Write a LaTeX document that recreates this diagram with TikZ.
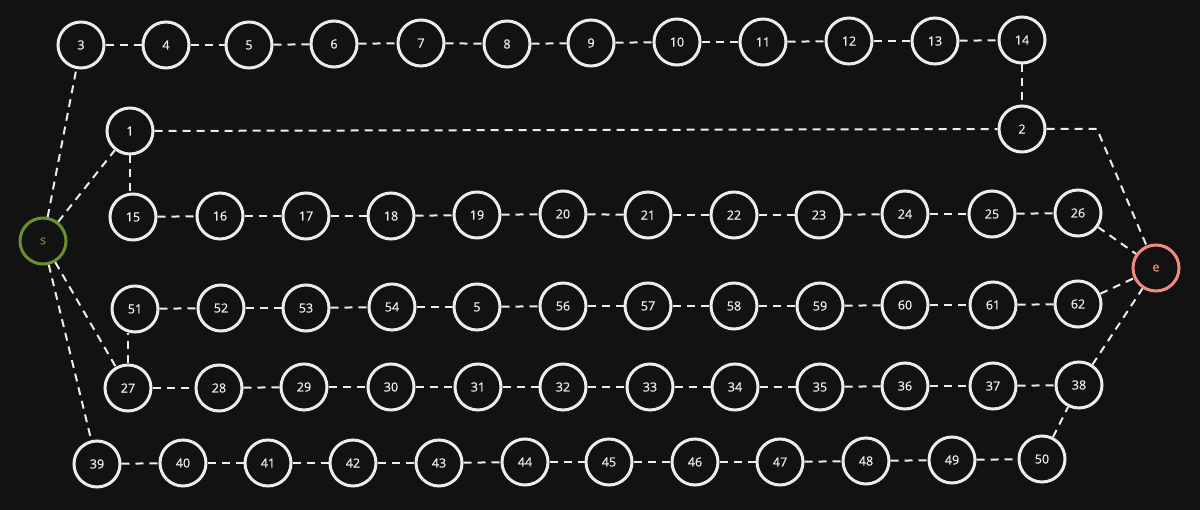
\documentclass[tikz,border=0pt]{standalone}
\usepackage{fontspec}
\setmainfont[FakeBold=0.8]{Open Sans}
\definecolor{bg}{HTML}{121212}
\definecolor{fg}{HTML}{ECECEC}
\definecolor{sgreen}{HTML}{6A8F2E}
\definecolor{esalmon}{HTML}{F28C82}
\tikzset{
  vtx/.style={circle, draw=fg, line width=3pt, minimum size=46pt, inner sep=0pt, text=fg, font=\fontsize{12.5}{13}\selectfont},
  startv/.style={vtx, draw=sgreen, text=sgreen},
  endv/.style={vtx, draw=esalmon, text=esalmon},
  link/.style={draw=fg, line width=2pt, dash pattern=on 8pt off 6pt}
}
\begin{document}
\begin{tikzpicture}[x=1pt,y=-1pt]
\fill[bg] (0,0) rectangle (1200,510);
\useasboundingbox (0,0) rectangle (1200,510);
% row 1
\foreach \n/\x/\y in {3/81/45,4/166/45,5/249/45,6/334/44,7/421/43,8/507/44,9/591/43,10/677/42,11/763/42,12/849/41,13/935/41,14/1022/40}
  \node[vtx] (a\n) at (\x,\y) {\n};
\node[vtx] (n1) at (130,131) {1};
\node[vtx] (n2) at (1022,129) {2};
% row 3
\foreach \n/\x/\y in {15/133/217,16/220/216,17/306/216,18/391/216,19/477/215,20/563/214,21/648/215,22/734/215,23/819/215,24/905/214,25/992/214,26/1078/213}
  \node[vtx] (b\n) at (\x,\y) {\n};
% row 4
\foreach \n/\l/\x/\y in {51/51/135/309,52/52/221/308,53/53/306/308,54/54/392/307,55/5/477/307,56/56/563/306,57/57/648/306,58/58/734/306,59/59/820/306,60/60/905/305,61/61/993/305,62/62/1078/304}
  \node[vtx] (c\n) at (\x,\y) {\l};
% row 5
\foreach \n/\x/\y in {27/128/388,28/219/388,29/304/387,30/391/387,31/478/387,32/563/387,33/650/387,34/735/387,35/820/387,36/905/386,37/993/386,38/1079/385}
  \node[vtx] (d\n) at (\x,\y) {\n};
% row 6
\foreach \n/\x/\y in {39/97/464,40/183/463,41/268/463,42/353/463,43/439/463,44/525/462,45/609/462,46/695/462,47/780/462,48/866/461,49/952/460,50/1042/459}
  \node[vtx] (f\n) at (\x,\y) {\n};
\node[startv] (s) at (43,241) {s};
\node[endv] (e) at (1156,268) {e};
\coordinate (bend) at (1097,129);
% chains
\foreach \i [evaluate=\i as \j using int(\i+1)] in {3,...,13} \draw[link] (a\i) -- (a\j);
\foreach \i [evaluate=\i as \j using int(\i+1)] in {15,...,25} \draw[link] (b\i) -- (b\j);
\foreach \i [evaluate=\i as \j using int(\i+1)] in {51,...,61} \draw[link] (c\i) -- (c\j);
\foreach \i [evaluate=\i as \j using int(\i+1)] in {27,...,37} \draw[link] (d\i) -- (d\j);
\foreach \i [evaluate=\i as \j using int(\i+1)] in {39,...,49} \draw[link] (f\i) -- (f\j);
% other links
\draw[link] (s) -- (a3);
\draw[link] (s) -- (n1);
\draw[link] (s) -- (d27);
\draw[link] (s) -- (f39);
\draw[link] (n1.south) -- (n1.south |- b15.north);
\draw[link] (n1) -- (n2);
\draw[link] (a14) -- (n2);
\draw[link] (n2) -- (bend) -- (e);
\draw[link] (d27.north) -- (d27.north |- c51.south);
\draw[link] (b26) -- (e);
\draw[link] (c62) -- (e);
\draw[link] (d38) -- (e);
\draw[link] (f50) -- (d38);
\end{tikzpicture}
\end{document}
